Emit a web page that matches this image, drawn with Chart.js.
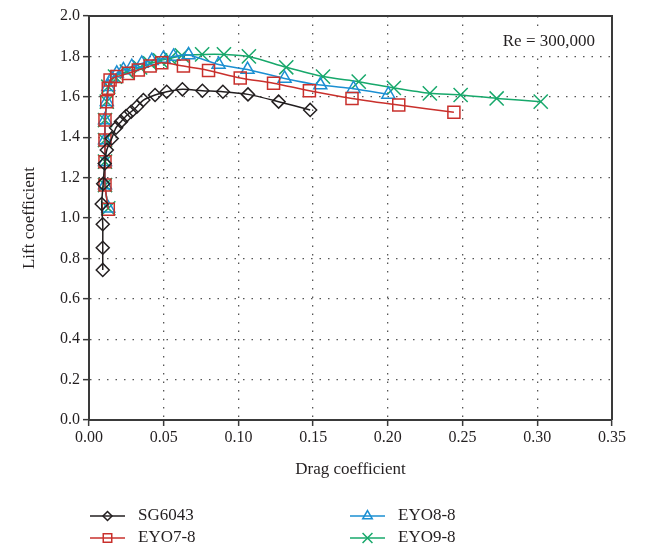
<!DOCTYPE html>
<html lang="en">
<head>
    <meta charset="UTF-8">
    <title>Lift vs drag</title>
    <script src="https://cdn.jsdelivr.net/npm/chart.js"></script>
    <style>
        html, body { margin: 0; padding: 0; background: #fff; }
        #wrap { width: 646px; height: 548px; }
    </style>
</head>
<body>
    <div id="wrap"><canvas id="polarChart" width="646" height="548"></canvas></div>

    <script>
        // Series data (drag coefficient, lift coefficient)
        const seriesNames = ['SG6043', 'EYO7-8', 'EYO8-8', 'EYO9-8'];

        const sgCd = [0.0092, 0.0092, 0.0092, 0.0085, 0.0095, 0.0105, 0.0119, 0.0152, 0.0181, 0.0214, 0.0248, 0.0282, 0.032, 0.0364, 0.0442, 0.052, 0.0625, 0.0759, 0.0896, 0.1064, 0.1269, 0.148];
        const sgCl = [0.743, 0.853, 0.969, 1.069, 1.17, 1.27, 1.337, 1.394, 1.447, 1.477, 1.505, 1.526, 1.551, 1.584, 1.609, 1.625, 1.637, 1.630, 1.625, 1.612, 1.576, 1.535];

        const eyo7Cd = [0.0129, 0.0107, 0.0107, 0.0107, 0.0107, 0.0119, 0.0129, 0.0141, 0.0186, 0.0263, 0.033, 0.0409, 0.0487, 0.0632, 0.080, 0.1012, 0.1235, 0.1475, 0.176, 0.2073, 0.2442];
        const eyo7Cl = [1.043, 1.163, 1.279, 1.386, 1.485, 1.576, 1.642, 1.683, 1.700, 1.716, 1.733, 1.752, 1.768, 1.752, 1.730, 1.693, 1.667, 1.630, 1.592, 1.559, 1.524];

        const eyo8Cd = [0.0129, 0.0107, 0.0107, 0.0107, 0.0107, 0.0119, 0.0129, 0.0152, 0.0186, 0.023, 0.0286, 0.0353, 0.042, 0.0498, 0.0566, 0.0666, 0.0867, 0.1061, 0.1309, 0.1548, 0.177, 0.2003];
        const eyo8Cl = [1.048, 1.163, 1.279, 1.386, 1.485, 1.576, 1.650, 1.690, 1.716, 1.733, 1.749, 1.765, 1.779, 1.790, 1.800, 1.807, 1.760, 1.735, 1.691, 1.658, 1.640, 1.612];

        const eyo9Cd = [0.0129, 0.0107, 0.0107, 0.0107, 0.0107, 0.0119, 0.0129, 0.0174, 0.0253, 0.0342, 0.0409, 0.0476, 0.0543, 0.0621, 0.0757, 0.0903, 0.107, 0.132, 0.1566, 0.1805, 0.204, 0.2281, 0.2487, 0.2728, 0.3023];
        const eyo9Cl = [1.048, 1.163, 1.279, 1.386, 1.485, 1.576, 1.650, 1.700, 1.725, 1.745, 1.765, 1.780, 1.790, 1.805, 1.810, 1.810, 1.800, 1.746, 1.700, 1.675, 1.644, 1.617, 1.609, 1.592, 1.576];

        const xTicks = [0.00, 0.05, 0.10, 0.15, 0.20, 0.25, 0.30, 0.35];
        const yTicks = [0.0, 0.2, 0.4, 0.6, 0.8, 1.0, 1.2, 1.4, 1.6, 1.8, 2.0];

        const colors = ['#231f20', '#c9302c', '#1b8fd2', '#17a86b'];
        const pointStyles = ['rectRot', 'rect', 'triangle', 'crossRot'];
        const pointSizes = [6.5, 8.5, 7.5, 10];
        const legendSizes = [4.5, 6, 5.5, 7];

        const serif = '"Liberation Serif", "DejaVu Serif", serif';
        const ink = '#231f20';

        function pairs(xs, ys) {
            return xs.map((x, i) => ({ x: x, y: ys[i] }));
        }

        const allData = [pairs(sgCd, sgCl), pairs(eyo7Cd, eyo7Cl), pairs(eyo8Cd, eyo8Cl), pairs(eyo9Cd, eyo9Cl)];

        const datasets = seriesNames.map((name, i) => ({
            label: name,
            data: allData[i],
            showLine: true,
            tension: 0.25,
            borderColor: colors[i],
            borderWidth: 1.5,
            backgroundColor: 'rgba(255,255,255,0)',
            pointStyle: pointStyles[i],
            pointRadius: pointSizes[i],
            pointBorderColor: colors[i],
            pointBorderWidth: 1.5,
            pointBackgroundColor: 'rgba(255,255,255,0)'
        }));

        // Frame, annotation and two-column legend
        const extras = {
            id: 'extras',
            afterDraw(chart) {
                const ctx = chart.ctx;
                const a = chart.chartArea;
                ctx.save();
                ctx.strokeStyle = '#3a3a3a';
                ctx.lineWidth = 2;
                ctx.beginPath();
                ctx.moveTo(a.left, a.top);
                ctx.lineTo(a.right, a.top);
                ctx.lineTo(a.right, a.bottom);
                ctx.stroke();

                ctx.font = '17px ' + serif;
                ctx.textAlign = 'right';
                ctx.textBaseline = 'middle';
                const tw = ctx.measureText('Re = 300,000').width;
                ctx.fillStyle = '#fff';
                ctx.fillRect(595 - tw - 3, 32, tw + 6, 20);
                ctx.fillStyle = ink;
                ctx.fillText('Re = 300,000', 595, 42);

                const cols = [90, 350];
                const rows = [516, 538];
                ctx.textAlign = 'left';
                seriesNames.forEach((name, i) => {
                    const lx = cols[Math.floor(i / 2)];
                    const ly = rows[i % 2];
                    ctx.strokeStyle = colors[i];
                    ctx.lineWidth = 1.5;
                    ctx.beginPath();
                    ctx.moveTo(lx, ly);
                    ctx.lineTo(lx + 35, ly);
                    ctx.stroke();
                    ctx.fillStyle = 'rgba(255,255,255,0)';
                    Chart.helpers.drawPoint(ctx, {
                        pointStyle: pointStyles[i],
                        radius: legendSizes[i],
                        borderWidth: 1.5
                    }, lx + 17.5, ly);
                    ctx.fillStyle = ink;
                    ctx.fillText(name, lx + 48, ly);
                });
                ctx.restore();
            }
        };

        const gridOpts = {
            color: '#555',
            lineWidth: 1.3,
            tickLength: 6,
            tickColor: '#3a3a3a',
            tickWidth: 1.5,
            tickBorderDash: []
        };
        const borderOpts = { display: true, color: '#3a3a3a', width: 2, dash: [1.5, 7] };

        const ctx = document.getElementById('polarChart').getContext('2d');
        const polarChart = new Chart(ctx, {
            type: 'scatter',
            data: { datasets: datasets },
            options: {
                responsive: false,
                animation: false,
                layout: { padding: { left: 0, right: 34, top: 16, bottom: 60 } },
                plugins: {
                    legend: { display: false },
                    tooltip: { enabled: false }
                },
                scales: {
                    x: {
                        type: 'linear',
                        min: 0,
                        max: 0.35,
                        afterBuildTicks: (scale) => { scale.ticks = xTicks.map(v => ({ value: v })); },
                        afterFit: (scale) => { scale.height = 68; },
                        ticks: {
                            color: ink,
                            font: { family: serif, size: 16 },
                            padding: 2,
                            maxRotation: 0,
                            callback: (v) => v.toFixed(2)
                        },
                        grid: gridOpts,
                        border: borderOpts,
                        title: {
                            display: true,
                            text: 'Drag coefficient',
                            color: ink,
                            font: { family: serif, size: 17 },
                            padding: { top: 0, bottom: 8 }
                        }
                    },
                    y: {
                        type: 'linear',
                        min: 0,
                        max: 2,
                        afterBuildTicks: (scale) => { scale.ticks = yTicks.map(v => ({ value: v })); },
                        afterFit: (scale) => { scale.width = 89; },
                        ticks: {
                            color: ink,
                            font: { family: serif, size: 16 },
                            padding: 3,
                            callback: (v) => v.toFixed(1)
                        },
                        grid: gridOpts,
                        border: borderOpts,
                        title: {
                            display: true,
                            text: 'Lift coefficient',
                            color: ink,
                            font: { family: serif, size: 17 },
                            padding: { top: 19, bottom: 0 }
                        }
                    }
                }
            },
            plugins: [extras]
        });
    </script>
</body>
</html>
